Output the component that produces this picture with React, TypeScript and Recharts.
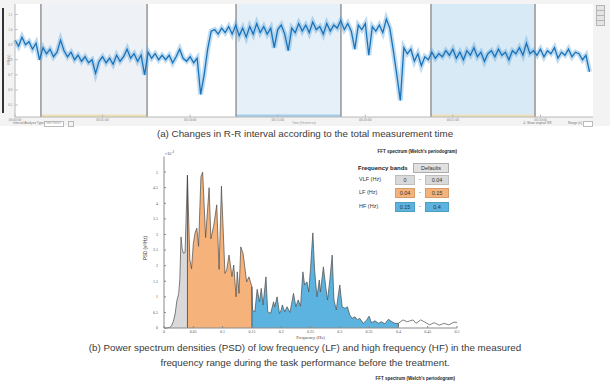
import {
  LineChart,
  ComposedChart,
  Line,
  Area,
  XAxis,
  YAxis,
  CartesianGrid,
  ReferenceArea,
  ReferenceLine,
} from "recharts";
import type { CSSProperties, ReactNode } from "react";

// R-R interval trace, one sample every 0.2 min, values in seconds
const rrStepMin = 0.2;
const rrValues = [
  0.93, 0.89, 0.95, 0.9, 0.92, 0.87, 0.91, 0.8,
  0.88, 0.84, 0.87, 0.82,
  0.85, 0.93,
  0.86, 0.82, 0.85, 0.8,
  0.83, 0.79, 0.82,
  0.78, 0.8, 0.71, 0.79,
  0.82, 0.78, 0.81, 0.77,
  0.83, 0.79, 0.82, 0.87,
  0.81, 0.84, 0.79, 0.83, 0.7,
  0.85, 0.81, 0.84, 0.8, 0.83,
  0.8, 0.83, 0.78, 0.82, 0.87,
  0.81, 0.79, 0.82, 0.78, 0.81,
  0.57, 0.7, 0.87, 0.99,
  1.0, 0.97, 1.01, 0.98, 1.02, 0.97,
  1.03, 0.96, 1.01, 0.95, 1.02, 0.97, 1.04, 0.98,
  1.02, 0.97, 1.01, 0.88, 1.0, 1.03, 0.97, 0.86, 1.01, 0.98,
  1.04, 0.99, 1.03, 0.98, 1.05, 1.0, 1.02, 0.97, 1.04, 0.99, 1.03,
  1.01, 1.06, 1.0, 1.04, 0.99, 0.87, 1.03, 1.0,
  1.04, 0.83, 1.02, 0.99, 1.03, 0.98, 1.07, 1.01,
  0.86, 0.7, 0.53, 0.88, 0.84,
  0.87, 0.79, 0.84, 0.76, 0.82,
  0.8, 0.85, 0.81, 0.84,
  0.82, 0.86, 0.83, 0.87, 0.81, 0.85, 0.8, 0.86, 0.83, 0.88, 0.82, 0.85, 0.79, 0.84,
  0.86, 0.82, 0.87, 0.83, 0.85, 0.8, 0.86, 0.84, 0.88, 0.83, 0.91, 0.84, 0.86,
  0.83, 0.87, 0.82, 0.86, 0.84, 0.88, 0.81, 0.85, 0.83, 0.87, 0.82, 0.85,
  0.84, 0.8, 0.83, 0.72,
];
const timeTicks = [0, 5, 10, 15, 20, 25, 30];
const rrTicks = [0.5, 0.6, 0.7, 0.8, 0.9, 1.0, 1.1];

// analysis windows (min)
const windowStart = [1.48, 12.62, 23.75];
const windowEnd = [7.54, 18.61, 29.69];

// Welch periodogram, PSD in 1e-3 s^2/Hz
const freqHz = [
  0, 0.005, 0.01, 0.013, 0.016, 0.019, 0.022, 0.025, 0.027, 0.029, 0.031, 0.033, 0.036, 0.038, 0.04,
  0.044, 0.047, 0.05, 0.053, 0.056, 0.059, 0.063, 0.066, 0.071, 0.077, 0.08, 0.085, 0.09, 0.094, 0.098,
  0.104, 0.107, 0.111, 0.116, 0.119, 0.123, 0.125, 0.128, 0.131, 0.135, 0.141, 0.145, 0.15,
  0.151, 0.155, 0.159, 0.163, 0.166, 0.169, 0.174, 0.177, 0.182, 0.187, 0.189, 0.193, 0.197, 0.2,
  0.202, 0.206, 0.21, 0.215, 0.221, 0.225, 0.229, 0.233, 0.237, 0.24, 0.244, 0.247, 0.25, 0.254,
  0.257, 0.261, 0.265, 0.267, 0.272, 0.276, 0.279, 0.283, 0.287, 0.29, 0.294, 0.297, 0.3, 0.304,
  0.309, 0.313, 0.317, 0.321, 0.326, 0.33, 0.334, 0.34, 0.346, 0.35, 0.354, 0.36, 0.366, 0.371,
  0.377, 0.383, 0.389, 0.394, 0.4,
  0.408, 0.415, 0.425, 0.43, 0.438, 0.447, 0.453, 0.461, 0.47, 0.478, 0.486, 0.495, 0.5,
];
const psdE3 = [
  0, 0, 0.02, 0.08, 0.22, 0.45, 0.88, 1.1, 1.55, 2.92, 2.55, 2.4, 2.42, 3.7, 4.9,
  2.2, 1.9, 2.7, 3.05, 3.2, 2.62, 4.85, 5.0, 2.9, 4.5, 2.86, 3.3, 3.95, 1.88, 4.55,
  1.75, 1.86, 2.34, 1.65, 2.02, 1.0, 1.8, 1.11, 2.6, 2.39, 1.48, 1.64, 1.32,
  0.58, 0.52, 1.24, 0.84, 1.27, 0.74, 1.64, 0.52, 0.47, 0.84, 0.68, 1.0, 0.47, 0.58,
  0.74, 0.52, 0.68, 0.5, 1.11, 0.68, 0.9, 0.7, 1.8, 1.38, 1.48, 1.16, 1.91, 3.05,
  1.86, 1.0, 1.54, 1.16, 1.96, 1.32, 0.9, 1.54, 2.34, 0.9, 0.58, 1.0, 1.38, 0.68,
  0.63, 0.68, 0.42, 0.31, 0.36, 0.26, 0.31, 0.15, 0.26, 0.38, 0.17, 0.23, 0.15, 0.2,
  0.14, 0.28, 0.2, 0.15, 0.15,
  0.26, 0.2, 0.26, 0.15, 0.26, 0.17, 0.1, 0.17, 0.09, 0.15, 0.1, 0.19, 0.17,
];
const freqTicks = [0, 0.05, 0.1, 0.15, 0.2, 0.25, 0.3, 0.35, 0.4, 0.45, 0.5];
const psdTicks = [0, 0.5, 1, 1.5, 2, 2.5, 3, 3.5, 4, 4.5, 5];

const bandNames = ["VLF", "LF", "HF"];
const bandLow = [0, 0.04, 0.15];
const bandHigh = [0.04, 0.15, 0.4];

const bandColor: Record<string, string> = { VLF: "#d9d9d9", LF: "#f5b27a", HF: "#5cb3df" };
const windowColor = ["#eef2f6", "#e6f0f8", "#d8eaf5"];
const windowTagColor = ["#f0e1b4", "#a3cdeb", "#eee0b8"];

const rrRows = rrValues.map((rr, i) => ({ t: i * rrStepMin, rr }));

const spectrumRows = freqHz.map((f, i) => {
  const row: Record<string, number | null> = { f, psd: psdE3[i] };
  bandNames.forEach((b, k) => {
    row[b] = f >= bandLow[k] && f <= bandHigh[k] ? psdE3[i] : null;
  });
  return row;
});

const bandEdges = Array.from(new Set([...bandLow, ...bandHigh])).filter((e) => e > 0);
const psdAt = (f: number) => psdE3[freqHz.indexOf(f)];

const NoLabel = () => <g />;
const fmtClock = (m: number) => `00:${String(m).padStart(2, "0")}:00`;
const fmtNum = (v: number) => String(+v.toFixed(2));

const ui = "'Liberation Sans', Arial, sans-serif";

function Txt({ style, children }: { style: CSSProperties; children: ReactNode }) {
  return (
    <div style={{ position: "absolute", whiteSpace: "nowrap", lineHeight: 1, fontFamily: ui, ...style }}>
      {children}
    </div>
  );
}

function RrPanel() {
  return (
    <div style={{ position: "absolute", left: 0, top: 0, width: 610, height: 126, background: "#f3f3f3" }}>
      {/* scroll bar */}
      <div style={{ position: "absolute", left: 2, top: 8, width: 1.5, height: 105, background: "#333" }} />
      <Txt style={{ left: 5, top: 58, fontSize: 3.5, color: "#777", transform: "rotate(-90deg)" }}>RR (s)</Txt>

      <div style={{ position: "absolute", left: 0, top: 0 }}>
        <LineChart width={610} height={125} data={rrRows} margin={{ top: 4, right: 17, bottom: 0, left: 0 }}>
          <CartesianGrid xAxisId="t" yAxisId="rr" fill="#ffffff" horizontal={false} vertical={false} />
          <XAxis
            xAxisId="t"
            dataKey="t"
            type="number"
            domain={[0, 33]}
            ticks={timeTicks}
            interval={0}
            height={8}
            stroke="#b8b8b8"
            tickSize={-2.5}
            tickMargin={4}
            tick={{ fontSize: 3.5, fill: "#888" }}
            tickFormatter={fmtClock}
          />
          <XAxis
            xAxisId="top"
            orientation="top"
            type="number"
            domain={[0, 33]}
            ticks={timeTicks}
            height={0}
            mirror
            stroke="#b8b8b8"
            tickSize={2.5}
            tick={NoLabel}
          />
          <YAxis
            yAxisId="rr"
            type="number"
            domain={[0.42, 1.17]}
            ticks={rrTicks}
            interval={0}
            width={15}
            stroke="#b8b8b8"
            tickSize={-2.5}
            tickMargin={5}
            tick={{ fontSize: 3.5, fill: "#888" }}
            tickFormatter={(v: number) => v.toFixed(1)}
          />
          <YAxis
            yAxisId="right"
            orientation="right"
            type="number"
            domain={[0.42, 1.17]}
            ticks={rrTicks}
            width={0}
            mirror
            stroke="#b8b8b8"
            tickSize={2.5}
            tick={NoLabel}
          />
          {windowStart.map((s, k) => (
            <ReferenceArea
              key={`w${k}`}
              xAxisId="t"
              yAxisId="rr"
              x1={s}
              x2={windowEnd[k]}
              fill={windowColor[k]}
              fillOpacity={1}
              stroke="none"
            />
          ))}
          {windowStart.map((s, k) => (
            <ReferenceArea
              key={`tag${k}`}
              xAxisId="t"
              yAxisId="rr"
              x1={s}
              x2={windowEnd[k]}
              y1={0.42}
              y2={0.437}
              fill={windowTagColor[k]}
              fillOpacity={1}
              stroke="none"
            />
          ))}
          {[...windowStart, ...windowEnd].map((x) => (
            <ReferenceLine key={`b${x}`} xAxisId="t" yAxisId="rr" x={x} stroke="#8e8e8e" strokeWidth={1.4} />
          ))}
          {/* scattered beats around the trace */}
          <Line
            xAxisId="t"
            yAxisId="rr"
            dataKey="rr"
            type="linear"
            stroke="#5ea8de"
            strokeWidth={5}
            strokeOpacity={0.4}
            dot={false}
            isAnimationActive={false}
          />
          <Line
            xAxisId="t"
            yAxisId="rr"
            dataKey="rr"
            type="linear"
            stroke="#1a72b8"
            strokeWidth={1.3}
            dot={false}
            isAnimationActive={false}
          />
        </LineChart>
      </div>

      {/* toolbar */}
      {[5, 10, 15, 20].map((y) => (
        <div
          key={y}
          style={{
            position: "absolute",
            left: 596,
            top: y,
            width: 7,
            height: 4,
            background: "#e4e4e4",
            border: "0.5px solid #b5b5b5",
          }}
        />
      ))}

      {/* control strip */}
      <Txt style={{ left: 13, top: 121.5, fontSize: 3.2, color: "#777" }}>Interval Analysis Type:</Txt>
      <div style={{ position: "absolute", left: 44, top: 121, width: 18, height: 3.5, background: "#fff", border: "0.5px solid #bbb" }} />
      <Txt style={{ left: 45, top: 121.5, fontSize: 3, color: "#999" }}>Time Series</Txt>
      <div style={{ position: "absolute", left: 68, top: 121, width: 3.5, height: 3.5, border: "0.5px solid #bbb" }} />
      <Txt style={{ left: 292, top: 121.5, fontSize: 3.2, color: "#999" }}>Time (hh:mm:ss)</Txt>
      <Txt style={{ left: 523, top: 121.5, fontSize: 3.2, color: "#777" }}>☑ Show original RR</Txt>
      <Txt style={{ left: 568, top: 121.5, fontSize: 3.2, color: "#777" }}>Range (s)</Txt>
      <div style={{ position: "absolute", left: 583, top: 121, width: 8, height: 3.5, background: "#fff", border: "0.5px solid #bbb" }} />
    </div>
  );
}

function SpectrumPanel() {
  const rowTop = [174.5, 188, 201.5];
  return (
    <>
      <div style={{ position: "absolute", left: 120, top: 140 }}>
        <ComposedChart width={350} height={205} data={spectrumRows} margin={{ top: 16.5, right: 13, bottom: 0, left: 24 }}>
          <XAxis
            xAxisId="f"
            dataKey="f"
            type="number"
            domain={[0, 0.5]}
            ticks={freqTicks}
            interval={0}
            height={17}
            stroke="#8a8a8a"
            tickSize={-2}
            tickMargin={4}
            tick={{ fontSize: 4, fill: "#555" }}
            tickFormatter={fmtNum}
            label={{ value: "Frequency (Hz)", position: "insideBottom", offset: 6, fontSize: 4.5, fill: "#444" }}
          />
          <XAxis
            xAxisId="top"
            orientation="top"
            type="number"
            domain={[0, 0.5]}
            ticks={freqTicks}
            height={0}
            mirror
            stroke="#9a9a9a"
            tickSize={2}
            tick={NoLabel}
          />
          <YAxis
            yAxisId="psd"
            type="number"
            domain={[0, 5.5]}
            ticks={psdTicks}
            interval={0}
            width={20}
            stroke="#8a8a8a"
            tickSize={-2}
            tickMargin={8}
            tick={{ fontSize: 4, fill: "#555" }}
            tickFormatter={fmtNum}
          />
          <YAxis
            yAxisId="right"
            orientation="right"
            type="number"
            domain={[0, 5.5]}
            ticks={psdTicks}
            width={0}
            mirror
            stroke="#9a9a9a"
            tickSize={2}
            tick={NoLabel}
          />
          {bandNames.map((b) => (
            <Area
              key={b}
              xAxisId="f"
              yAxisId="psd"
              dataKey={b}
              type="linear"
              stroke="none"
              fill={bandColor[b]}
              fillOpacity={1}
              connectNulls={false}
              isAnimationActive={false}
            />
          ))}
          <Line
            xAxisId="f"
            yAxisId="psd"
            dataKey="psd"
            type="linear"
            stroke="#4a4a4a"
            strokeWidth={0.7}
            dot={false}
            isAnimationActive={false}
          />
          {bandEdges.map((e) => (
            <ReferenceLine
              key={e}
              xAxisId="f"
              yAxisId="psd"
              segment={[
                { x: e, y: 0 },
                { x: e, y: psdAt(e) },
              ]}
              stroke="#3f3f3f"
              strokeWidth={0.8}
            />
          ))}
        </ComposedChart>
      </div>

      <Txt style={{ left: 165, top: 151, fontSize: 3.8, color: "#555" }}>
        ×10<sup style={{ fontSize: 2.8 }}>-3</sup>
      </Txt>
      <Txt style={{ left: 146, top: 248, fontSize: 4.5, color: "#444", transform: "translate(-50%, -50%) rotate(-90deg)" }}>
        PSD (s²/Hz)
      </Txt>
      <Txt style={{ right: 610 - 457, top: 150, fontSize: 4.5, color: "#222", fontWeight: 700 }}>
        FFT spectrum (Welch's periodogram)
      </Txt>

      {/* frequency band editor */}
      <Txt style={{ left: 358, top: 165, fontSize: 6, fontWeight: 700, color: "#222" }}>Frequency bands</Txt>
      <div
        style={{
          position: "absolute",
          left: 413,
          top: 162.5,
          width: 36,
          height: 10.5,
          background: "#e1e1e1",
          border: "0.5px solid #adadad",
          boxSizing: "border-box",
          fontFamily: ui,
          fontSize: 5.5,
          color: "#333",
          display: "flex",
          alignItems: "center",
          justifyContent: "center",
        }}
      >
        Defaults
      </div>
      {bandNames.map((b, k) => (
        <div key={b}>
          <Txt style={{ left: 359, top: rowTop[k] + 2.3, fontSize: 5.5, color: "#333" }}>{b} (Hz)</Txt>
          {[
            { left: 395, width: 20, v: bandLow[k] },
            { left: 425, width: 24, v: bandHigh[k] },
          ].map((box) => (
            <div
              key={box.left}
              style={{
                position: "absolute",
                left: box.left,
                top: rowTop[k],
                width: box.width,
                height: 10,
                background: bandColor[b],
                border: "0.5px solid rgba(0,0,0,0.12)",
                boxSizing: "border-box",
                fontFamily: ui,
                fontSize: 5.5,
                color: "#333",
                display: "flex",
                alignItems: "center",
                justifyContent: "center",
              }}
            >
              {String(box.v)}
            </div>
          ))}
          <Txt style={{ left: 419, top: rowTop[k] + 2.3, fontSize: 5.5, color: "#333" }}>-</Txt>
        </div>
      ))}
    </>
  );
}

const caption = "'Liberation Sans Narrow', 'Liberation Sans', Arial, sans-serif";

function Caption({ top, children }: { top: number; children: ReactNode }) {
  return (
    <div
      style={{
        position: "absolute",
        left: 0,
        width: 610,
        top,
        textAlign: "center",
        fontFamily: caption,
        fontSize: 9.8,
        lineHeight: 1,
        color: "#3a3a3a",
        whiteSpace: "nowrap",
      }}
    >
      {children}
    </div>
  );
}

export default function App() {
  return (
    <div
      style={{
        position: "absolute",
        left: 0,
        top: 0,
        width: 610,
        height: 383,
        background: "#ffffff",
        overflow: "hidden",
      }}
    >
      <RrPanel />
      <Caption top={129}>(a) Changes in R-R interval according to the total measurement time</Caption>
      <SpectrumPanel />
      <Caption top={343}>
        (b) Power spectrum densities (PSD) of low frequency (LF) and high frequency (HF) in the measured
      </Caption>
      <Caption top={358}>frequency range during the task performance before the treatment.</Caption>
      <Txt style={{ right: 610 - 455, top: 376.5, fontSize: 4.5, color: "#222", fontWeight: 700 }}>
        FFT spectrum (Welch's periodogram)
      </Txt>
    </div>
  );
}
